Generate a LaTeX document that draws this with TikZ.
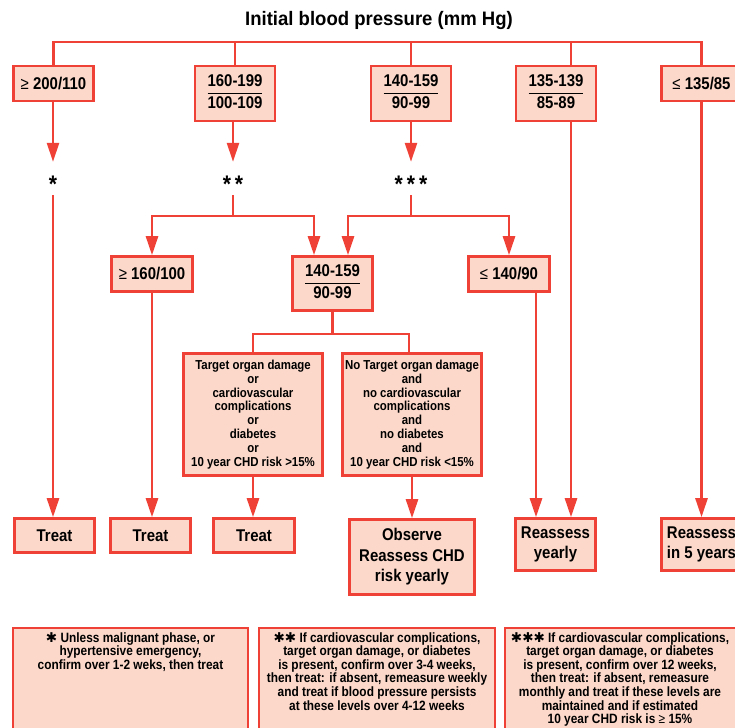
\documentclass[tikz,border=0pt]{standalone}
\usepackage{fontspec}
\setmainfont{Liberation Sans}[FakeStretch=0.88]
\newfontfamily\titlefont{Liberation Sans}[FakeStretch=0.95]
\newfontfamily\starfont{DejaVu Sans}
\usetikzlibrary{arrows.meta}

\definecolor{bpred}{RGB}{239,65,54}
\definecolor{bppink}{RGB}{252,216,202}

% range written as a fraction: upper over lower
\newcommand{\bprange}[2]{\setlength{\arrayrulewidth}{1.8pt}\begin{tabular}{@{}c@{}}#1\\\hline #2\end{tabular}}
\newcommand{\hstar}{{\starfont\mdseries ✱}}
\newcommand{\gstar}[1]{\raisebox{-14pt}[0pt][0pt]{#1}}

\tikzset{
  bpbox/.style={draw=bpred, fill=bppink, line width=2.6pt, inner sep=2pt, align=center,
    font=\bfseries\fontsize{17}{20.5}\selectfont},
  bpcond/.style={bpbox, font=\bfseries\fontsize{13}{13.8}\selectfont},
  bpstar/.style={inner sep=0pt, minimum height=33pt, font=\bfseries\fontsize{24}{26}\selectfont},
  bpline/.style={draw=bpred, line width=2.6pt},
  bparrow/.style={bpline, -{Triangle[length=19pt,width=12pt]}},
  bpframe/.style={draw=bpred, fill=bppink, line width=2.6pt},
  bpnote/.style={anchor=north, align=center, inner sep=0pt, font=\bfseries\fontsize{13.5}{13.6}\selectfont}
}

\begin{document}
\begin{tikzpicture}[x=1pt, y=-1pt]
\clip (0,0) rectangle (735,727);

% Title
\node[font=\titlefont\bfseries\fontsize{19.5}{22}\selectfont] (title) at (379,21) {Initial blood pressure (mm Hg)};

% First row: initial readings
\node[bpbox, minimum width=80, minimum height=35] (g200) at (53.5,83.5) {{\mdseries ≥} 200/110};
\node[bpbox, minimum width=80, minimum height=55] (r160) at (235,93.5) {\bprange{160-199}{100-109}};
\node[bpbox, minimum width=80, minimum height=55] (r140) at (411,93.5) {\bprange{140-159}{90-99}};
\node[bpbox, minimum width=80, minimum height=55] (r135) at (556,93.5) {\bprange{135-139}{85-89}};
\node[bpbox, minimum width=80, minimum height=35] (l135) at (701.5,83.5) {{\mdseries ≤} 135/85};

% Asterisks
\node[bpstar] (st1) at (53,178.5) {\gstar{*}};
\node[bpstar] (st2) at (233,178.5) {\gstar{*\,*}};
\node[bpstar] (st3) at (411,178.5) {\gstar{*\,*\,*}};

% Second row
\node[bpbox, minimum width=81, minimum height=35] (g160) at (152,274) {{\mdseries ≥} 160/100};
\node[bpbox, minimum width=80, minimum height=54] (m140) at (332.5,283.5) {\bprange{140-159}{90-99}};
\node[bpbox, minimum width=81, minimum height=35] (l140) at (509,274) {{\mdseries ≤} 140/90};

% Third row: risk factors
\node[bpcond, minimum width=139, minimum height=122] (tod) at (253,414.5) {Target organ damage\\or\\cardiovascular\\complications\\or\\diabetes\\or\\10 year CHD risk >15\%};
\node[bpcond, minimum width=139, minimum height=122] (notod) at (412,414.5) {No Target organ damage\\and\\no cardiovascular\\complications\\and\\no diabetes\\and\\10 year CHD risk <15\%};

% Bottom row: outcomes
\node[bpbox, minimum width=80, minimum height=34] (treat1) at (54.5,535.5) {Treat};
\node[bpbox, minimum width=80, minimum height=34] (treat2) at (150.5,535.5) {Treat};
\node[bpbox, minimum width=81, minimum height=34] (treat3) at (254,535.5) {Treat};
\node[bpbox, minimum width=125, minimum height=75] (observe) at (412,557) {Observe\\Reassess CHD\\risk yearly};
\node[bpbox, minimum width=80, minimum height=52] (reyr) at (555.5,544.5) {Reassess\\yearly};
\node[bpbox, minimum width=80, minimum height=52] (re5) at (701.5,544.5) {Reassess\\in 5 years};

% Top bar
\coordinate (bar) at (0,42);
\coordinate (c135) at (571,0);
\draw[bpline] (g200.north) -- (g200.north |- bar) -- (l135.north |- bar) -- (l135.north);
\draw[bpline] (r160.north) -- (r160.north |- bar);
\draw[bpline] (r140.north) -- (r140.north |- bar);
\draw[bpline] (r135.north -| c135) -- (bar -| c135);

% Down to the asterisks
\draw[bparrow] (g200.south -| st1) -- (st1.north);
\draw[bparrow] (r160.south -| st2) -- (st2.north);
\draw[bparrow] (r140.south -| st3) -- (st3.north);

% Branches below the asterisks
\coordinate (br2) at (0,216);
\draw[bpline] (st2.south) -- (st2.south |- br2);
\draw[bparrow] (st2.south |- br2) -| (g160.north);
\draw[bparrow] (st2.south |- br2) -| ([xshift=-18.5pt]m140.north);
\draw[bpline] (st3.south) -- (st3.south |- br2);
\draw[bparrow] (st3.south |- br2) -| ([xshift=15.5pt]m140.north);
\draw[bparrow] (st3.south |- br2) -| (l140.north);

% Split on risk factors
\coordinate (br3) at (0,334);
\draw[bpline] (m140.south) -- (m140.south |- br3);
\draw[bpline] (m140.south |- br3) -| (tod.north);
\draw[bpline] (m140.south |- br3) -| ([xshift=-3pt]notod.north);

% Down to the outcomes
\draw[bparrow] (st1.south) -- (st1.south |- treat1.north);
\draw[bparrow] (g160.south) -- (g160.south |- treat2.north);
\draw[bparrow] (tod.south) -- (tod.south |- treat3.north);
\draw[bparrow] (notod.south) -- (observe.north);
\draw[bparrow] ([xshift=27pt]l140.south) -- ([xshift=27pt]l140.south |- reyr.north);
\draw[bparrow] (r135.south -| c135) -- (reyr.north -| c135);
\draw[bparrow] (l135.south) -- (l135.south |- re5.north);

% Footnotes
\draw[bpframe] (13,628) rectangle (248,760);
\node[bpnote] (note1) at (130.5,632) {\hstar{} Unless malignant phase, or\\hypertensive emergency,\\confirm over 1-2 weks, then treat};
\draw[bpframe] (259,628) rectangle (495,760);
\node[bpnote] (note2) at (377,632) {\hstar\hstar{} If cardiovascular complications,\\target organ damage, or diabetes\\is present, confirm over 3-4 weeks,\\then treat: if absent, remeasure weekly\\and treat if blood pressure persists\\at these levels over 4-12 weeks};
\draw[bpframe] (505,628) rectangle (740,760);
\node[bpnote] (note3) at (620,632) {\hstar\hstar\hstar{} If cardiovascular complications,\\target organ damage, or diabetes\\is present, confirm over 12 weeks,\\then treat: if absent, remeasure\\monthly and treat if these levels are\\maintained and if estimated\\10 year CHD risk is {\mdseries ≥} 15\%};
\end{tikzpicture}
\end{document}
